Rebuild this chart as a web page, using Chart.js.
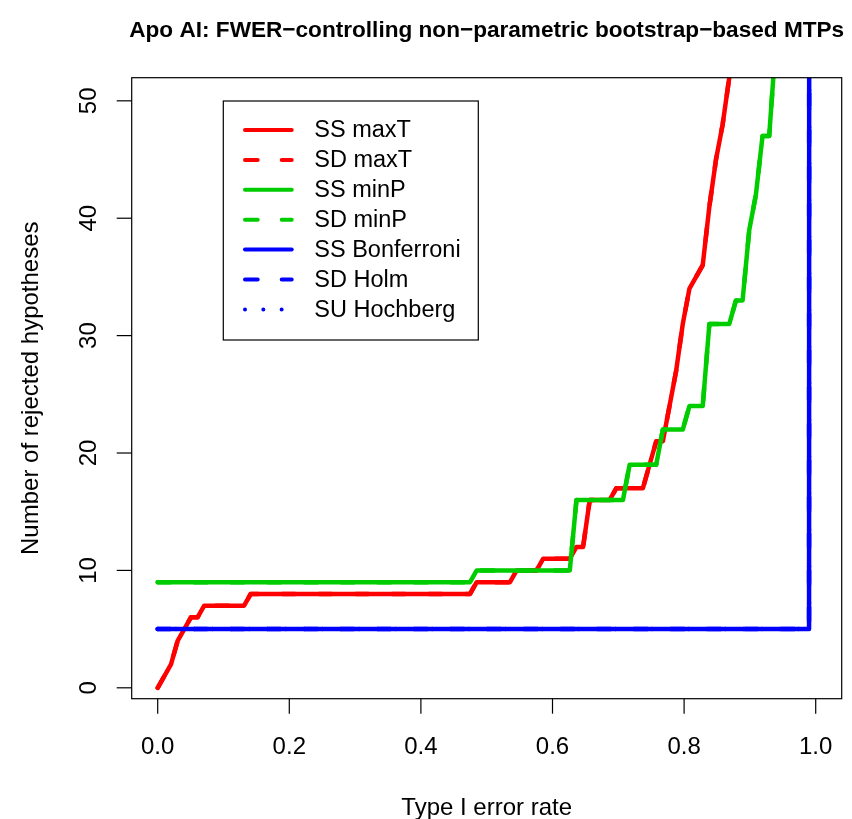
<!DOCTYPE html>
<html>
<head>
<meta charset="utf-8">
<script src="https://cdn.jsdelivr.net/npm/chart.js@4.4.1/dist/chart.umd.min.js"></script>
<style>
  html, body { margin: 0; padding: 0; background: #fff; }
  canvas { display: block; }
</style>
</head>
<body>
<canvas id="mtpChart" width="852" height="819"></canvas>
<script>
const chartTitle = 'Apo AI: FWER\u2212controlling non\u2212parametric bootstrap\u2212based MTPs';
const xTitle = 'Type I error rate';
const yTitle = 'Number of rejected hypotheses';
const xTicks = [0, 0.2, 0.4, 0.6, 0.8, 1.0];
const xTickLabels = ['0.0', '0.2', '0.4', '0.6', '0.8', '1.0'];
const yTicks = [0, 10, 20, 30, 40, 50];
const yTickLabels = ['0', '10', '20', '30', '40', '50'];
const seriesLabels = ['SS maxT', 'SD maxT', 'SS minP', 'SD minP', 'SS Bonferroni', 'SD Holm', 'SU Hochberg'];

// error rates where the maxT curves bend, and rejections there
const maxTAlpha = [0, 0.0101, 0.0202, 0.0303, 0.0404, 0.0505, 0.0606, 0.0707, 0.1313, 0.1414,
  0.4747, 0.4848, 0.5354, 0.5455, 0.5758, 0.5859, 0.6263, 0.6364, 0.6465, 0.6566,
  0.6869, 0.6970, 0.7374, 0.7475, 0.7576, 0.7677, 0.7778, 0.7879, 0.7980, 0.8081,
  0.8182, 0.8283, 0.8384, 0.8485, 0.8586, 0.8687, 0.8788, 1.0];
const ssMaxT = [0, 1, 2, 4, 5, 6, 6, 7, 7, 8,
  8, 9, 9, 10, 10, 11, 11, 12, 12, 16,
  16, 17, 17, 19, 21, 21, 24, 27, 31, 34,
  35, 36, 41, 45, 48, 52, 56, 6384];
const sdMaxT = [0, 1, 2, 4, 5, 6, 6, 7, 7, 8,
  8, 9, 9, 10, 10, 11, 11, 12, 12, 16,
  16, 17, 17, 19, 21, 21, 24, 27, 31, 34,
  35, 36, 41, 45, 48, 52, 56, 6384];

// same for minP
const minPAlpha = [0, 0.4747, 0.4848, 0.6263, 0.6364, 0.7071, 0.7172, 0.7576, 0.7677, 0.7980,
  0.8081, 0.8283, 0.8384, 0.8687, 0.8788, 0.8889, 0.8990, 0.9091, 0.9192, 0.9293,
  0.9394, 1.0];
const ssMinP = [9, 9, 10, 10, 16, 16, 19, 19, 22, 22,
  24, 24, 31, 31, 33, 33, 39, 42, 47, 47,
  55, 6384];
const sdMinP = [9, 9, 10, 10, 16, 16, 19, 19, 22, 22,
  24, 24, 31, 31, 33, 33, 39, 42, 47, 47,
  55, 6384];

// Bonferroni-type procedures
const bonfAlpha = [0, 0.9899, 1.0];
const ssBonferroni = [5, 5, 6384];
const sdHolm = [5, 5, 6384];
const suHochberg = [5, 5, 6384];

const FONT = '"Liberation Sans", Arial, Helvetica, sans-serif';

function toPoints(xs, ys) {
  return xs.map((x, i) => ({ x: x, y: ys[i] }));
}

function makeSet(i, xs, ys, color, dash, order) {
  return {
    label: seriesLabels[i],
    data: toPoints(xs, ys),
    borderColor: color,
    borderWidth: 4.5,
    borderDash: dash,
    borderCapStyle: 'round',
    borderJoinStyle: 'round',
    pointRadius: 0,
    tension: 0,
    fill: false,
    order: order
  };
}

// R-like box, axes, titles and legend
const rPlot = {
  id: 'rPlot',
  beforeDraw(chart) {
    const c = chart.ctx;
    c.save();
    c.fillStyle = '#fff';
    c.fillRect(0, 0, chart.width, chart.height);
    c.restore();
  },
  afterDraw(chart) {
    const c = chart.ctx;
    const a = chart.chartArea;
    const xs = chart.scales.x, ys = chart.scales.y;
    c.save();
    c.strokeStyle = '#000';
    c.fillStyle = '#000';
    c.lineWidth = 1.2;
    c.strokeRect(a.left, a.top, a.right - a.left, a.bottom - a.top);

    // x axis
    c.font = '24px ' + FONT;
    c.textAlign = 'center';
    c.textBaseline = 'alphabetic';
    xTicks.forEach((v, i) => {
      const px = xs.getPixelForValue(v);
      c.beginPath();
      c.moveTo(px, a.bottom);
      c.lineTo(px, a.bottom + 15);
      c.stroke();
      c.fillText(xTickLabels[i], px, 754);
    });

    // y axis, labels turned like R does
    yTicks.forEach((v, i) => {
      const py = ys.getPixelForValue(v);
      c.beginPath();
      c.moveTo(a.left, py);
      c.lineTo(a.left - 15, py);
      c.stroke();
      c.save();
      c.translate(95.5, py);
      c.rotate(-Math.PI / 2);
      c.fillText(yTickLabels[i], 0, 0);
      c.restore();
    });

    c.fillText(xTitle, (a.left + a.right) / 2, 815);
    c.save();
    c.translate(38, (a.top + a.bottom) / 2);
    c.rotate(-Math.PI / 2);
    c.fillText(yTitle, 0, 0);
    c.restore();

    c.font = 'bold 22.6px ' + FONT;
    c.fillText(chartTitle, (a.left + a.right) / 2, 37);

    // legend
    const box = { x: 223.3, y: 101, w: 255, h: 239 };
    c.lineWidth = 1.2;
    c.strokeRect(box.x, box.y, box.w, box.h);
    c.font = '23.5px ' + FONT;
    c.textAlign = 'left';
    c.textBaseline = 'middle';
    chart.data.datasets.forEach((ds, i) => {
      const y = 130 + i * 29.9;
      c.save();
      c.strokeStyle = ds.borderColor;
      c.lineWidth = 4;
      c.lineCap = 'round';
      c.setLineDash(ds.borderDash);
      c.beginPath();
      c.moveTo(245, y);
      c.lineTo(291.7, y);
      c.stroke();
      c.restore();
      c.fillText(ds.label, 314.3, y + 1);
    });
    c.restore();
  }
};

new Chart(document.getElementById('mtpChart').getContext('2d'), {
  type: 'line',
  data: {
    datasets: [
      makeSet(0, maxTAlpha, ssMaxT, '#FF0000', [], 7),
      makeSet(1, maxTAlpha, sdMaxT, '#FF0000', [12.7, 24], 6),
      makeSet(2, minPAlpha, ssMinP, '#00CD00', [], 5),
      makeSet(3, minPAlpha, sdMinP, '#00CD00', [12.7, 24], 4),
      makeSet(4, bonfAlpha, ssBonferroni, '#0000FF', [], 3),
      makeSet(5, bonfAlpha, sdHolm, '#0000FF', [12.7, 24], 2),
      makeSet(6, bonfAlpha, suHochberg, '#0000FF', [0.01, 18.3], 1)
    ]
  },
  options: {
    responsive: false,
    animation: false,
    devicePixelRatio: 1,
    layout: { padding: { left: 131.7, right: 10.3, top: 77.7, bottom: 120.3 } },
    plugins: { legend: { display: false }, tooltip: { enabled: false } },
    scales: {
      x: { type: 'linear', min: -0.0395, max: 1.0395, display: false },
      y: { type: 'linear', min: -0.928, max: 51.97, display: false }
    }
  },
  plugins: [rPlot]
});
</script>
</body>
</html>
